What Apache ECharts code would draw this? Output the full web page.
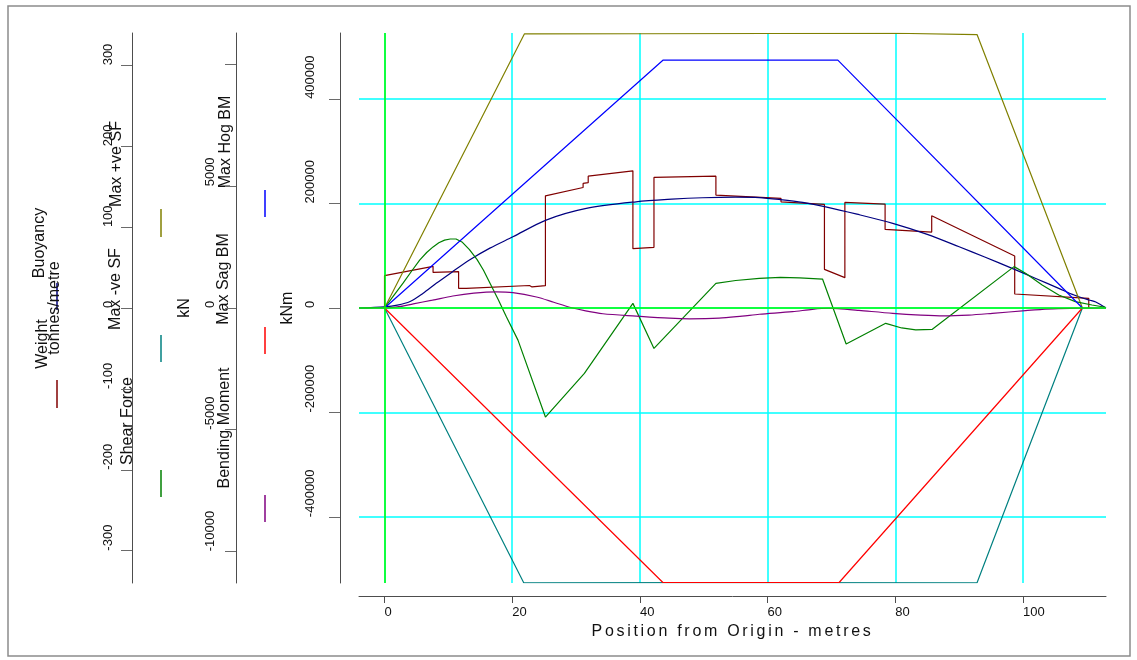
<!DOCTYPE html>
<html>
<head>
<meta charset="utf-8">
<script src="https://cdn.jsdelivr.net/npm/echarts@6/dist/echarts.min.js"></script>
<style>
  html, body { margin: 0; padding: 0; background: #ffffff; }
  #chart { width: 1137px; height: 660px; }
</style>
</head>
<body>
<div id="chart"></div>
<script>
// Longitudinal strength along the hull: loads, shear force and bending moment

// ---- axis ticks ----
const xTickValues = [0, 20, 40, 60, 80, 100];
const loadTicks = [-300, -200, -100, 0, 100, 200, 300];
const shearTicks = [-10000, -5000, 0, 5000, 10000];
const shearLabelValues = [-10000, -5000, 0, 5000];
const momentTicks = [-400000, -200000, 0, 200000, 400000];

// ---- loads (tonnes/metre) : [position m, value] ----
const weight = [
  [0, 0], [0, 40], [7.6, 51.5], [7.6, 44], [11.6, 45], [11.6, 24.3],
  [12.8, 24.3], [12.8, 26.5], [22.7, 27.8], [22.7, 26], [23.1, 26], [23.1, 27.6],
  [25.2, 27.6], [25.2, 138.7], [31.1, 149], [31.1, 154], [31.9, 155], [31.9, 163],
  [38.9, 169.6], [38.9, 73.3], [42.2, 75], [42.2, 161.4], [51.9, 163], [51.9, 139.6],
  [62.1, 135.5], [62.1, 131.3], [68.9, 128], [68.9, 47.8], [72.1, 37.5], [72.1, 130.5],
  [78.4, 128.5], [78.4, 97.2], [85.7, 93.9], [85.7, 114], [98.7, 64.2], [98.7, 17.3],
  [110.3, 12], [110.3, 0]
];
const buoyancy = [
  [-4, 0], [0, 1.5], [2, 3.5], [4, 8], [6, 18], [8.1, 30.5], [10.5, 44], [13.3, 59.3],
  [16.5, 74], [20.1, 88], [25.3, 108.7], [31.6, 123.1], [39.4, 131.3], [45, 134.5],
  [49.8, 136.3], [55, 137], [58.7, 136.5], [62, 134], [65.5, 130.5], [69.1, 125.1],
  [74, 116], [79.6, 104.6], [85, 91], [90, 75.7], [94, 63], [98.3, 49], [102, 36.5],
  [105.6, 24.3], [108, 16], [110.3, 9.9], [111.4, 7.5], [113, 0]
];

// ---- shear force (kN) ----
const maxPosSF = [[0, 0], [21.9, 11260], [40, 11270], [60, 11280], [80, 11290], [92.8, 11235], [109.3, 0]];
const maxNegSF = [[0, 0], [21.8, -11290], [50, -11280], [92.8, -11290], [100, -6350], [109.3, 0]];
const shearForce = [
  [0, 0], [1.4, 500], [2.9, 1020], [4.2, 1500], [5.5, 1970], [6.6, 2280], [7.6, 2510],
  [8.5, 2680], [9.4, 2790], [10.3, 2835], [11.2, 2835], [12.2, 2700], [13.3, 2400],
  [14.5, 1990], [15.5, 1550], [16.5, 1030], [17.8, 350], [19.1, -370], [20.9, -1320],
  [25.2, -4480], [31.3, -2690], [38.9, 190], [42.2, -1660], [51.9, 1015], [55, 1130],
  [58.7, 1220], [62, 1260], [65, 1240], [68.6, 1190], [72.3, -1480], [78.5, -630],
  [81, -820], [83.2, -900], [85.8, -877], [98.6, 1700], [100.4, 1426], [103, 945],
  [105.6, 534], [108.2, 260], [110.8, 123], [112.9, 30]
];

// ---- bending moment (kNm) ----
const maxHogBM = [[0, 0], [43.6, 474000], [71, 474000], [109.3, 0]];
const maxSagBM = [[0, 0], [43.6, -525000], [71.2, -525000], [109.3, 0]];
const bendingMoment = [
  [-4, 0], [0, 0], [2.5, 3000], [4.5, 8000], [7.5, 15000], [10.7, 23000], [14, 28500],
  [17.5, 31000], [20.1, 29500], [23.8, 21000], [26.5, 11000], [29, 1500], [31.5, -5500],
  [34.2, -11000], [39.4, -15500], [44.6, -19500], [47.8, -20700], [52.4, -19500],
  [56, -15500], [58.7, -12000], [63.9, -7000], [67, -2500], [69.5, -500], [71, -1200],
  [74.3, -4500], [79.6, -10200], [84, -13500], [87.6, -15000], [91.5, -13500],
  [95.2, -10200], [100.4, -5100], [103, -2500], [105.6, -1300], [109.3, -300], [113, 0]
];

const xName = 'Position from Origin - metres';
const FONT = '"Liberation Sans", Arial, Helvetica, sans-serif';
const TEXT = '#111111';
const AXIS = '#4d4d4d';
const GRID_COLOR = '#00ffff';

// the position axis title is drawn letter-spaced
(function () {
  const proto = CanvasRenderingContext2D.prototype;
  const baseFill = proto.fillText;
  proto.fillText = function (s) {
    if (s === xName && 'letterSpacing' in this) {
      this.save();
      this.letterSpacing = '2.7px';
      this.font = this.font;
      const r = baseFill.apply(this, arguments);
      this.restore();
      return r;
    }
    return baseFill.apply(this, arguments);
  };
})();

function sideAxis(cfg) {
  return {
    type: 'value',
    position: 'left',
    offset: cfg.offset,
    min: cfg.min,
    max: cfg.max,
    name: cfg.name,
    nameLocation: 'middle',
    nameRotate: 90,
    nameGap: cfg.nameGap,
    nameMoveOverlap: false,
    nameTextStyle: { fontFamily: FONT, fontSize: 16, color: TEXT },
    axisLine: { show: true, onZero: false, lineStyle: { color: AXIS, width: 1 } },
    axisTick: { show: true, inside: false, length: 11, customValues: cfg.ticks, lineStyle: { color: '#6a6a6a', width: 1 } },
    axisLabel: {
      show: true, customValues: cfg.labels, rotate: 90, align: 'left', verticalAlign: 'bottom',
      margin: cfg.margin, fontFamily: FONT, fontSize: 13, color: TEXT,
      formatter: function (v) { return String(v); }
    },
    splitLine: cfg.split
      ? { show: true, showMinLine: true, showMaxLine: true, lineStyle: { color: GRID_COLOR, width: 1.5 } }
      : { show: false }
  };
}

function curve(name, data, axisIndex, color, smooth) {
  return {
    name: name, type: 'line', data: data, yAxisIndex: axisIndex,
    showSymbol: false, symbol: 'none', smooth: smooth || false,
    lineStyle: { color: color, width: 1.2 }, itemStyle: { color: color },
    silent: true, z: 3, emphasis: { disabled: true }
  };
}

function vText(text, x, y) {
  return {
    type: 'text', x: x, y: y, rotation: Math.PI / 2, silent: true,
    style: {
      text: text, fill: TEXT, font: '16px ' + FONT,
      align: 'center', verticalAlign: 'middle',
      textAlign: 'center', textVerticalAlign: 'middle'
    }
  };
}
function key(x, y1, y2, color) {
  return {
    type: 'line', silent: true,
    shape: { x1: x, y1: y1, x2: x, y2: y2 },
    style: { stroke: color, lineWidth: 1.5 }
  };
}

const chart = echarts.init(document.getElementById('chart'), null, { renderer: 'canvas' });

const option = {
  animation: false,
  backgroundColor: '#ffffff',
  grid: { left: 359, right: 31, top: 33, bottom: 77, outerBoundsMode: 'none', containLabel: false },
  xAxis: {
    type: 'value', min: -4, max: 113, offset: 13,
    name: xName, nameLocation: 'middle', nameGap: 27,
    nameTextStyle: { fontFamily: FONT, fontSize: 16, color: TEXT },
    axisLine: { show: true, onZero: false, lineStyle: { color: AXIS, width: 1 } },
    axisTick: { show: true, length: 7, customValues: xTickValues, lineStyle: { color: AXIS, width: 1 } },
    axisLabel: {
      customValues: xTickValues, align: 'left', margin: 10,
      fontFamily: FONT, fontSize: 13, color: TEXT,
      formatter: function (v) { return String(v); }
    },
    splitLine: { show: true, showMinLine: true, showMaxLine: true, lineStyle: { color: GRID_COLOR, width: 1.5 } }
  },
  yAxis: [
    sideAxis({ name: 'kNm', offset: 19, min: -526000, max: 526000, nameGap: 44, margin: 23,
               ticks: momentTicks, labels: momentTicks, split: true }),
    sideAxis({ name: 'kN', offset: 123, min: -11300, max: 11300, nameGap: 43, margin: 19,
               ticks: shearTicks, labels: shearLabelValues, split: false }),
    sideAxis({ name: 'tonnes/metre', offset: 227, min: -340, max: 340, nameGap: 69, margin: 17,
               ticks: loadTicks, labels: loadTicks, split: false })
  ],
  series: [
    {
      name: 'zero', type: 'line', data: [], yAxisIndex: 0, silent: true, z: 2,
      markLine: {
        silent: true, symbol: 'none', animation: false,
        label: { show: false },
        lineStyle: { color: '#00ff00', width: 1.5, type: 'solid' },
        emphasis: { disabled: true },
        data: [{ xAxis: 0 }, { yAxis: 0 }]
      }
    },
    curve('Weight', weight, 2, '#800000'),
    curve('Buoyancy', buoyancy, 2, '#000080', 0.3),
    curve('Max +ve SF', maxPosSF, 1, '#808000'),
    curve('Max -ve SF', maxNegSF, 1, '#008080'),
    curve('Shear Force', shearForce, 1, '#008000'),
    curve('Max Hog BM', maxHogBM, 0, '#0000ff'),
    curve('Max Sag BM', maxSagBM, 0, '#ff0000'),
    curve('Bending Moment', bendingMoment, 0, '#800080', 0.3)
  ],
  graphic: [
    { type: 'rect', silent: true, z: -10,
      shape: { x: 8, y: 6, width: 1122, height: 650 },
      style: { fill: 'none', stroke: '#8c8c8c', lineWidth: 1.5 } },
    // loads group
    vText('Buoyancy', 40, 243),
    key(57, 283, 310, '#000080'),
    vText('Weight', 43, 344),
    key(57, 380, 408, '#800000'),
    // shear group
    vText('Max +ve SF', 117, 164),
    key(161, 209, 237, '#808000'),
    vText('Max -ve SF', 116, 289),
    key(161, 335, 362, '#008080'),
    vText('Shear Force', 128, 421),
    key(161, 470, 497, '#008000'),
    // moment group
    vText('Max Hog BM', 226, 142),
    key(265, 190, 217, '#0000ff'),
    vText('Max Sag BM', 224, 279),
    key(265, 327, 354, '#ff0000'),
    vText('Bending Moment', 225, 428),
    key(265, 495, 522, '#800080')
  ]
};

chart.setOption(option);
</script>
</body>
</html>
